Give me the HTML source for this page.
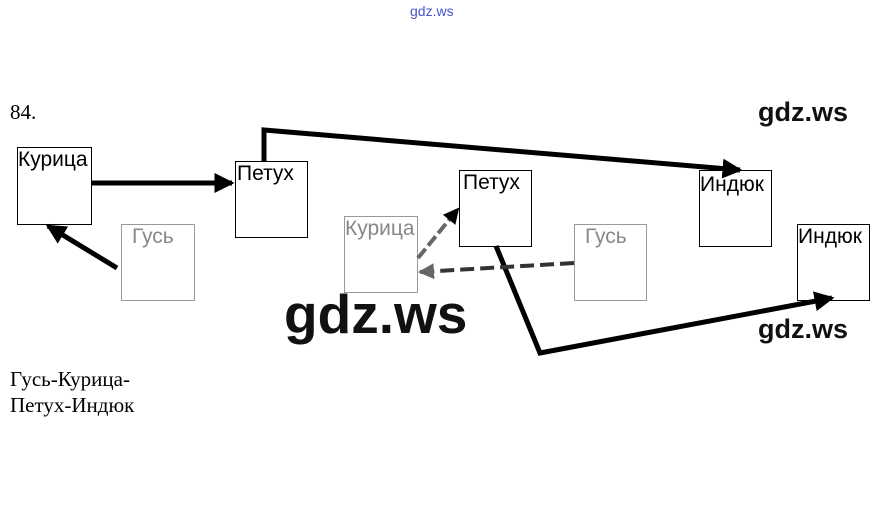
<!DOCTYPE html><html><head><meta charset="utf-8"><style>
body{margin:0;width:873px;height:512px;background:#fff;position:relative;overflow:hidden;font-family:"Liberation Sans",sans-serif}
.b{position:absolute;border:1px solid #000;box-sizing:border-box;font-size:21px;line-height:22px;padding-left:0;white-space:nowrap}
.g{border-color:#999;color:#888}
.t{position:absolute;white-space:nowrap}
.s{font-family:"Liberation Serif",serif;font-size:21px}
.w{font-family:"Liberation Sans",sans-serif;font-weight:bold;color:#111}
</style></head><body>
<div class="t" style="left:410px;top:3px;font-size:14px;color:#4455cc">gdz.ws</div>
<div class="t s" style="left:10px;top:100px">84.</div>
<div class="t s" style="left:10px;top:366px;line-height:26px">Гусь-Курица-<br>Петух-Индюк</div>
<div class="b" style="left:17px;top:147px;width:75px;height:78px;padding-top:1px">Курица</div>
<div class="b" style="left:235px;top:161px;width:73px;height:77px;padding-top:1px;padding-left:1px">Петух</div>
<div class="b g" style="left:121px;top:224px;width:74px;height:77px;padding:1px 0 0 10px">Гусь</div>
<div class="b g" style="left:344px;top:216px;width:74px;height:77px;padding-top:1px">Курица</div>
<div class="b" style="left:459px;top:170px;width:73px;height:77px;padding:1px 0 0 3px">Петух</div>
<div class="b g" style="left:574px;top:224px;width:73px;height:77px;padding:1px 0 0 10px">Гусь</div>
<div class="b" style="left:699px;top:170px;width:73px;height:77px;padding-top:3px">Индюк</div>
<div class="b" style="left:797px;top:224px;width:73px;height:77px;padding-top:1px">Индюк</div>
<svg width="873" height="512" style="position:absolute;left:0;top:0">
<defs><marker id="a" markerWidth="4" markerHeight="4" refX="3.5" refY="2" orient="auto"><path d="M0,0L4,2L0,4z" fill="#000"/></marker>
<marker id="ag" markerWidth="4" markerHeight="4" refX="3.5" refY="2" orient="auto"><path d="M0,0L4,2L0,4z" fill="#666"/></marker></defs>
<g stroke="#000" stroke-width="5" fill="none">
<line x1="91" y1="183" x2="232" y2="183" marker-end="url(#a)"/>
<polyline points="264,161 264,130 740,170" marker-end="url(#a)"/>
<line x1="117" y1="268" x2="48" y2="226" marker-end="url(#a)"/>
<polyline points="496,246 540,353 832,298" marker-end="url(#a)"/>
</g>
<g stroke-width="4" fill="none">
<line x1="418" y1="258" x2="458" y2="209" stroke="#666" stroke-dasharray="12,4" marker-end="url(#a)"/>
<line x1="574" y1="263" x2="420" y2="272" stroke="#333" stroke-dasharray="14,6" marker-end="url(#ag)"/>
</g></svg>
<div class="t w" style="left:758px;top:97px;font-size:27px">gdz.ws</div>
<div class="t w" style="left:284px;top:282px;font-size:55px">gdz.ws</div>
<div class="t w" style="left:758px;top:314px;font-size:27px">gdz.ws</div>
</body></html>
